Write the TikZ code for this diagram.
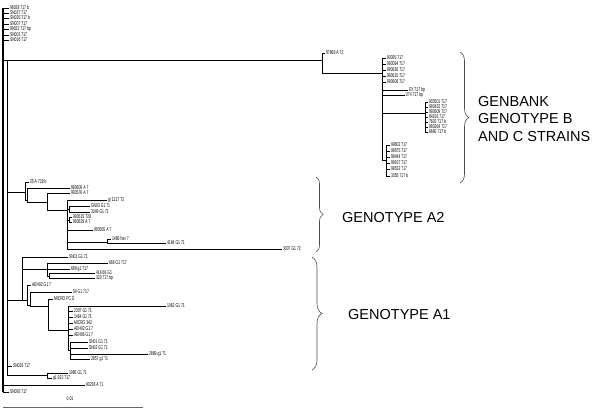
\documentclass[tikz,border=0pt]{standalone}
\usepackage{fontspec}
\setmainfont{Liberation Sans}
\newfontfamily\narrowf[FakeStretch=0.62]{Liberation Sans}
\usetikzlibrary{decorations.pathreplacing}
\begin{document}
\begin{tikzpicture}[x=1pt,y=-1pt,
  tx/.style={anchor=west,inner sep=0.8pt,font=\narrowf\fontsize{5.5}{5.5}\selectfont},
  br/.style={line width=0.8pt,black},
  brc/.style={decorate,decoration={brace,amplitude=7pt},line width=0.6pt,black!70},
  bigt/.style={anchor=west,font=\fontsize{14.5}{17.5}\selectfont,align=left,inner sep=0pt}]
\useasboundingbox (0,0) rectangle (600,413);
% ---------- root
\coordinate (R0a) at (3,8); \coordinate (R0b) at (3,392);
\coordinate (R1a) at (7,60); \coordinate (R1b) at (7,375);
\draw[br,line width=1.1pt] (R0a) -- (R0b);
\draw[br] (R1a) -- (R1b);
% ---------- top cluster
\node[tx] (a1) at (9,8) {96028 717 b};
\node[tx] (a2) at (9,13) {SN027 717};
\node[tx] (a3) at (9,18) {SN035 717 b};
\node[tx] (a4) at (9,24) {SN007 717};
\node[tx] (a5) at (9,29) {99022 717 bp};
\node[tx] (a6) at (9,35) {SN003 717};
\node[tx] (a7) at (9,40) {SN016 717};
\foreach \n in {a1,a2,a3,a4,a5,a6,a7} \draw[br] (R0a) |- (\n.west);
% ---------- genbank clade
\coordinate (g0) at (322,60);
\draw[br] (R0a) |- (g0);
\node[tx] (g97) at (325,53) {97869 A 72};
\coordinate (g1) at (382,73);
\draw[br] (g0) |- (g97.west);
\draw[br] (g0) |- (g1);
\node[tx] (b1) at (386,58) {90395 717};
\node[tx] (b2) at (386,64) {993094 717};
\node[tx] (b3) at (386,70) {993626 717};
\node[tx] (b4) at (386,76) {993615 717};
\node[tx] (b5) at (386,82) {993608 717};
\node[tx] (b6) at (408,90) {EX 717 bp};
\node[tx] (b7) at (405,95) {274 717 bp};
\foreach \n in {b1,b2,b3,b4,b5,b6,b7} \draw[br] (g1) |- (\n.west);
\coordinate (g2) at (425,113);
\draw[br] (g1) |- (g2);
\node[tx] (c1) at (428,102) {903501 717};
\node[tx] (c2) at (428,107) {993432 717};
\node[tx] (c3) at (428,112) {993609 717};
\node[tx] (c4) at (428,117) {94193 717};
\node[tx] (c5) at (428,122) {7602 717 b};
\node[tx] (c6) at (428,127) {993264 717};
\node[tx] (c7) at (428,132) {9666 717 b};
\foreach \n in {c1,c2,c3,c4,c5,c6,c7} \draw[br] (g2) |- (\n.west);
\coordinate (g3) at (386,160);
\draw[br] (g1) |- (g3);
\node[tx] (d1) at (390,145) {99602 717};
\node[tx] (d2) at (390,151) {99575 717};
\node[tx] (d3) at (390,157) {99444 717};
\node[tx] (d4) at (390,163) {99167 717};
\node[tx] (d5) at (390,169) {99532 717};
\node[tx] (d6) at (390,176) {3355 717 b};
\foreach \n in {d1,d2,d3,d4,d5,d6} \draw[br] (g3) |- (\n.west);
% ---------- genotype A2
\coordinate (h0) at (25,192);
\draw[br] (R1a) |- (h0);
\node[tx] (e1) at (29,182) {25 A 728 b};
\draw[br] (h0) |- (e1.west);
\coordinate (h1) at (27,200);
\draw[br] (h0) |- (h1);
\node[tx] (e2) at (70,188) {993606 A 7};
\draw[br] (h1) |- (e2.west);
\coordinate (h2) at (47,202);
\draw[br] (h1) |- (h2);
\node[tx] (e3) at (70,193) {993576 A 7};
\draw[br] (h2) |- (e3.west);
\coordinate (h3) at (67,210);
\draw[br] (h2) |- (h3);
\node[tx] (e4) at (107,200) {gI 1217 72};
\draw[br] (h3) |- (e4.west);
\coordinate (h4) at (69,209);
\draw[br] (h3) |- (h4);
\node[tx] (e5) at (90,206) {GN03 G1 71};
\node[tx] (e6) at (90,212) {3349 G1 71};
\draw[br] (h4) |- (e5.west); \draw[br] (h4) |- (e6.west);
\coordinate (h5) at (69,220);
\draw[br] (h3) |- (h5);
\node[tx] (e7) at (72,217) {993515 728};
\node[tx] (e8) at (72,222) {993629 A 7};
\draw[br] (h5) |- (e7.west); \draw[br] (h5) |- (e8.west);
\node[tx] (e9) at (93,230) {993565 A 7};
\draw[br] (h3) |- (e9.west);
\coordinate (h6) at (107,242);
\draw[br] (h3) |- (h6);
\node[tx] (e10) at (111,239) {1486 hov 7};
\node[tx] (e11) at (166,243) {4184 G1 71};
\draw[br] (h6) |- (e10.west); \draw[br] (h6) |- (e11.west);
\node[tx] (e12) at (282,249) {3037 G1 72};
\draw[br] (h3) |- (e12.west);
% ---------- genotype A1
\coordinate (k0) at (22,300);
\draw[br] (R1a) |- (k0);
\node[tx] (f1) at (68,257) {SN01 G1 71};
\draw[br] (k0) |- (f1.west);
\coordinate (k1) at (47,269);
\draw[br] (k0) |- (k1);
\node[tx] (f2) at (108,263) {666 G1 717};
\node[tx] (f3) at (70,269) {689 g1 717};
\draw[br] (k1) |- (f2.west); \draw[br] (k1) |- (f3.west);
\coordinate (k2) at (49,276);
\draw[br] (k1) |- (k2);
\node[tx] (f4) at (95,273) {416 66 G1};
\node[tx] (f5) at (95,278) {320 717 bp};
\draw[br] (k2) |- (f4.west); \draw[br] (k2) |- (f5.west);
\coordinate (k3) at (27,300);
\draw[br] (k0) |- (k3);
\node[tx] (f6) at (31,285) {AEH02 G1 7};
\draw[br] (k3) |- (f6.west);
\coordinate (k4) at (30,305);
\draw[br] (k3) |- (k4);
\node[tx] (f7) at (72,292) {54 G1 717};
\draw[br] (k4) |- (f7.west);
\coordinate (k5) at (48,306);
\draw[br] (k4) |- (k5);
\node[tx] (f8) at (53,299) {MICRO PC G};
\draw[br] (k5) |- (f8.west);
\coordinate (k6) at (68,330);
\draw[br] (k5) |- (k6);
\node[tx] (f9) at (166,306) {1062 G1 71};
\draw[br] (k6) |- (f9.west);
\node[tx] (f10) at (73,311) {2307 G1 71};
\node[tx] (f11) at (73,317) {1464 G1 71};
\node[tx] (f12) at (73,323) {MICRO 342};
\node[tx] (f13) at (73,329) {AEH02 G1 7};
\node[tx] (f14) at (73,335) {AEH06 G1 7};
\foreach \n in {f10,f11,f12,f13,f14} \draw[br] (k6) |- (\n.west);
\coordinate (k7) at (70,350);
\draw[br] (k6) |- (k7);
\node[tx] (f15) at (88,342) {SN01 G1 71};
\node[tx] (f16) at (88,348) {SN02 G1 71};
\node[tx] (f17) at (148,354) {2889 g1 71};
\node[tx] (f18) at (90,359) {2857 g1 71};
\foreach \n in {f15,f16,f17,f18} \draw[br] (k7) |- (\n.west);
% ---------- bottom taxa
\node[tx] (m1) at (12,366) {SN026 717};
\draw[br] (R1a) |- (m1.west);
\coordinate (m0) at (47,375);
\draw[br] (R1a) |- (m0);
\node[tx] (m2) at (68,373) {1985 G1 71};
\node[tx] (m3) at (52,378) {g1 922 717};
\draw[br] (m0) |- (m2.west); \draw[br] (m0) |- (m3.west);
\node[tx] (m4) at (85,385) {90238 A 71};
\draw[br] (R0a) |- (m4.west);
\node[tx] (m5) at (9,392) {SN093 717};
\draw[br] (R0a) |- (m5.west);
% ---------- scale bar
\coordinate (s0) at (3,407); \coordinate (s1) at (143,407);
\draw[line width=0.8pt,black!60] (s0) -- (s1);
\node[tx,anchor=center] (sl) at (70,399) {0.01};
% ---------- braces and clade labels
\coordinate (bz1) at (460,52); \coordinate (bz2) at (460,183);
\draw[brc,decoration={amplitude=9pt}] (bz1) -- (bz2);
\node[bigt] (T1) at (478,119) {GENBANK\\GENOTYPE B\\AND C STRAINS};
\coordinate (bx1) at (316,177); \coordinate (bx2) at (316,252);
\draw[brc] (bx1) -- (bx2);
\node[bigt] (T2) at (342,218) {GENOTYPE A2};
\coordinate (by1) at (312,257); \coordinate (by2) at (312,370);
\draw[brc,decoration={amplitude=10pt}] (by1) -- (by2);
\node[bigt] (T3) at (348,315) {GENOTYPE A1};
\end{tikzpicture}
\end{document}
